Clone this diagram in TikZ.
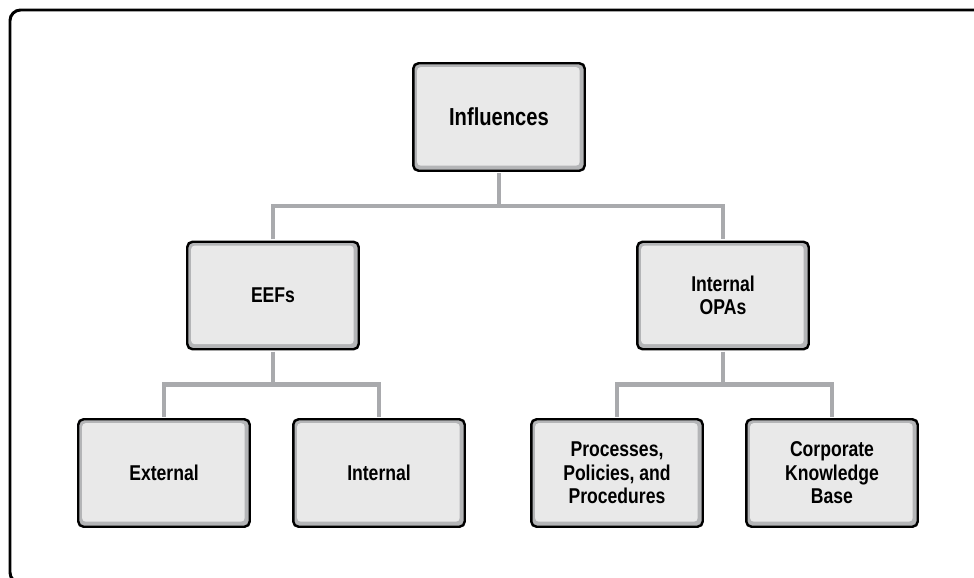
\documentclass[tikz,border=0pt]{standalone}
\usepackage{fontspec}
\setmainfont{Liberation Sans}[FakeStretch=0.82]
\usepackage{xcolor}
\usepackage{tikz}

\definecolor{boxfill}{HTML}{E9E9E9}
\definecolor{boxedge}{HTML}{B4B5B7}
\definecolor{linkgray}{HTML}{A9AAAD}

\begin{document}
\begin{tikzpicture}[x=0.02cm, y=-0.02cm,
		box/.style = {draw, line width=1.4pt, rounded corners=3pt, fill=boxedge,
			minimum width=3.43cm, minimum height=2.15cm, align=center,
			font=\fontsize{12.2}{13.4}\selectfont\bfseries,
			path picture={\fill [boxfill, rounded corners=2pt]
				([shift={(2.2pt,-2.2pt)}]path picture bounding box.north west) rectangle
				([shift={(-2.9pt,2.9pt)}]path picture bounding box.south east);}},
		link/.style = {draw=linkgray, line width=2.3pt, shorten <=0.7pt, shorten >=0.7pt}]
			\clip (0,0) rectangle (974,578);
			\draw [line width=1.7pt, rounded corners=6pt] (10,10) rectangle (990,583);

			\node [box, font=\fontsize{14}{16}\selectfont\bfseries] (infl) at (499,117) {Influences};
			\node [box] (eefs) at (273,295.5) {EEFs};
			\node [box] (opas) at (723,295.5) {Internal\\OPAs};
			\node [box] (ext) at (164,473) {External};
			\node [box] (int) at (379,473) {Internal};
			\node [box] (ppp) at (617,473) {Processes,\\Policies, and\\Procedures};
			\node [box] (ckb) at (832,473) {Corporate\\Knowledge\\Base};

			\coordinate (top) at (499,206);
			\coordinate (left) at (273,384.5);
			\coordinate (right) at (723,384.5);

			\draw [link] (infl.south) to (top);
			\draw [link] (eefs.north) |- (top) -| (opas.north);
			\draw [link] (eefs.south) to (left);
			\draw [link] (ext.north) |- (left) -| (int.north);
			\draw [link] (opas.south) to (right);
			\draw [link] (ppp.north) |- (right) -| (ckb.north);
		\end{tikzpicture}
\end{document}
